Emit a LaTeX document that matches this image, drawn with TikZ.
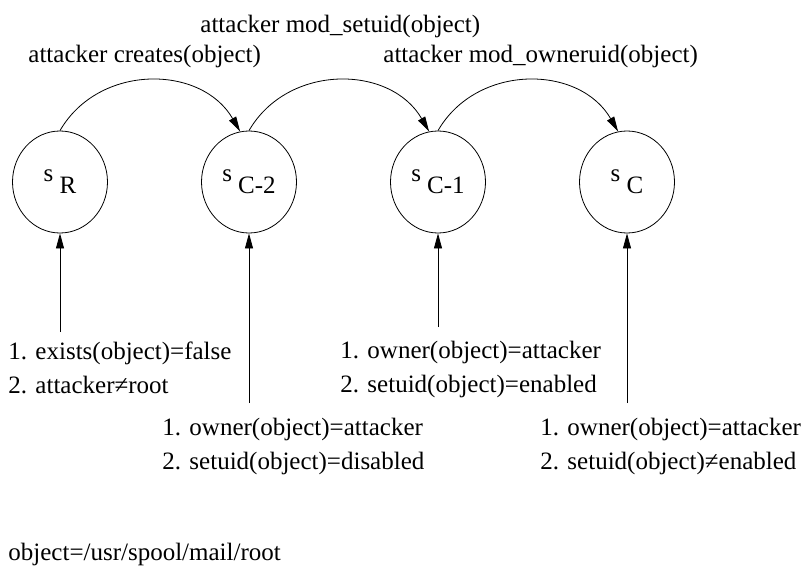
\documentclass[tikz,border=0pt]{standalone}
\usepackage{fontspec}
\setmainfont{Liberation Serif}
\usepackage{tikz}
\usetikzlibrary{arrows.meta}
\usetikzlibrary{shapes.geometric}
\usetikzlibrary{positioning}

\begin{document}
\begin{tikzpicture}[x=1pt,y=-1pt,>={Triangle[length=15pt,width=8pt]},line width=0.8pt,node distance=189pt,font=\fontsize{25}{34}\selectfont]
  \tikzstyle{state}=[draw, ellipse, minimum width=95pt, minimum height=102pt, inner sep=0pt]
  \tikzstyle{lbl}=[inner sep=0pt, anchor=base west]
  \tikzstyle{cond}=[inner sep=0pt, anchor=north west, align=left]
  \useasboundingbox (0,0) rectangle (803,567);
  % states
  \node[state] (sR) at (60,182) {s \raisebox{-12pt}{R}};
  \node[state] (sC2) [right of=sR] {s \raisebox{-12pt}{C-2}};
  \node[state] (sC1) [right of=sC2] {s \raisebox{-12pt}{C-1}};
  \node[state] (sC) [right of=sC1] {s \raisebox{-12pt}{C}};
  % actions
  \node[lbl] (tSetuid) at (200,33) {attacker mod\_setuid(object)};
  \node[lbl] (tCreates) at (28,63) {attacker creates(object)};
  \node[lbl] (tOwner) at (383,63) {attacker mod\_owneruid(object)};
  % conditions
  \node[cond] (cR) at (8,341) {1. exists(object)=false\\2. attacker≠root};
  \node[cond] (cC2) at (162,418) {1. owner(object)=attacker\\2. setuid(object)=disabled};
  \node[cond] (cC1) at (340,341) {1. owner(object)=attacker\\2. setuid(object)=enabled};
  \node[cond] (cC) at (540,418) {1. owner(object)=attacker\\2. setuid(object)≠enabled};
  \node[lbl] (tObj) at (8,560) {object=/usr/spool/mail/root};
  \coordinate (eR) at (60,332);
  \coordinate (eC2) at (249,403);
  \coordinate (eC1) at (438,327);
  \coordinate (eC) at (627,403);
  \path[->]
      (sR.north) edge [out=60, in=120, looseness=1.1] (sC2.100)
      (sC2.north) edge [out=60, in=120, looseness=1.1] (sC1.100)
      (sC1.north) edge [out=60, in=120, looseness=1.1] (sC.100)
      (eR) edge (sR)
      (eC2) edge (sC2)
      (eC1) edge (sC1)
      (eC) edge (sC);
\end{tikzpicture}
\end{document}
